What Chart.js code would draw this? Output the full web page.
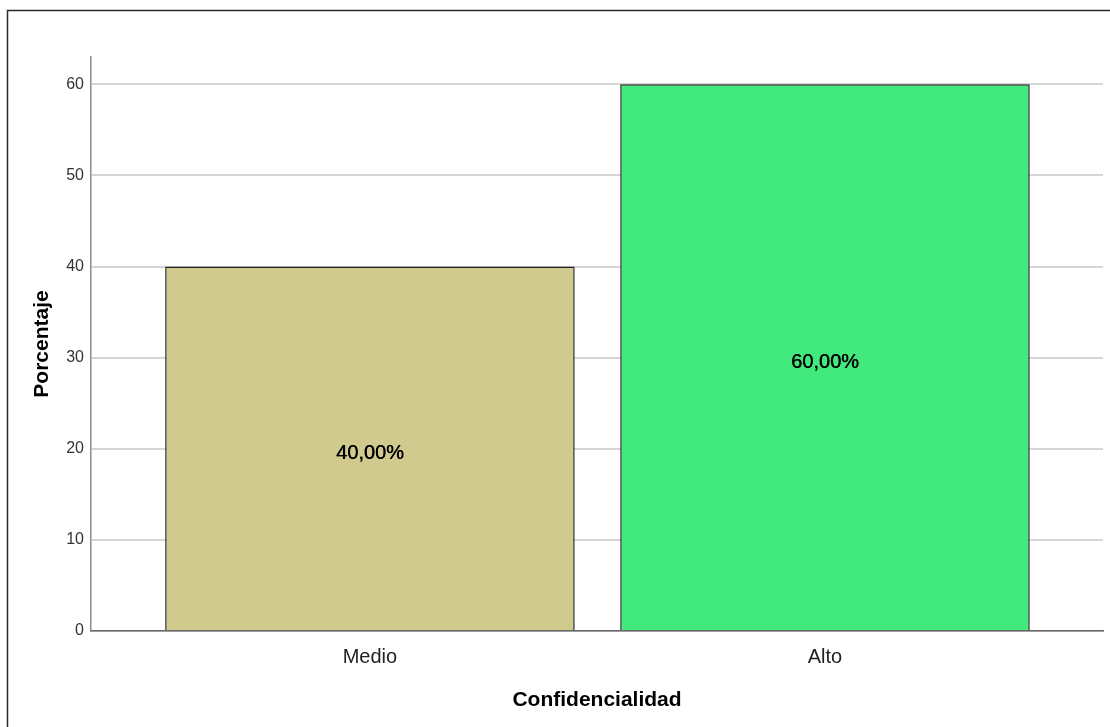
<!DOCTYPE html>
<html lang="es">
<head>
    <meta charset="UTF-8">
    <script src="https://cdn.jsdelivr.net/npm/chart.js@4.4.0/dist/chart.umd.min.js"></script>
    <title>Confidencialidad</title>
    <style>
        body { margin: 0; background: #fff; }
        #wrap { width: 1110px; height: 727px; }
    </style>
</head>
<body>
    <div id="wrap"><canvas id="myChart" width="1110" height="727"></canvas></div>
    <script>

        var categories = ['Medio', 'Alto'];
        var porcentajes = [40, 60];
        var yTicks = [0, 10, 20, 30, 40, 50, 60];
        var barColors = ['rgb(208, 202, 143)', 'rgb(66, 234, 126)'];

        var fontFamily = "'Liberation Sans', Arial, sans-serif";

        // frame around the whole output (left + top only are visible)
        var framePlugin = {
            id: 'frame',
            beforeDraw: function(chart) {
                var ctx = chart.ctx;
                ctx.save();
                ctx.strokeStyle = '#2a2a2a';
                ctx.lineWidth = 1.5;
                ctx.beginPath();
                ctx.moveTo(7.5, 727);
                ctx.lineTo(7.5, 10.5);
                ctx.lineTo(1110, 10.5);
                ctx.stroke();
                ctx.restore();
            }
        };

        // percentage label in the middle of each bar
        var barLabels = {
            id: 'barLabels',
            afterDatasetsDraw: function(chart) {
                var ctx = chart.ctx;
                var meta = chart.getDatasetMeta(0);
                ctx.save();
                ctx.fillStyle = '#000';
                ctx.font = '20px ' + fontFamily;
                ctx.textAlign = 'center';
                ctx.textBaseline = 'middle';
                meta.data.forEach(function(bar, i) {
                    var txt = porcentajes[i].toFixed(2).replace('.', ',') + '%';
                    var y = (bar.y + bar.base) / 2 + 5;
                    ctx.fillText(txt, bar.x, y);
                    ctx.fillText(txt, bar.x + 0.4, y);
                });
                ctx.restore();
            }
        };

        var ctx = document.getElementById('myChart').getContext('2d');
        var myChart = new Chart(ctx, {
            type: 'bar',
            data: {
                datasets: [{
                    label: 'Porcentaje',
                    data: porcentajes.map(function(v, i) { return { x: i, y: v }; }),
                    backgroundColor: barColors,
                    borderColor: '#222',
                    borderWidth: 1.5,
                    borderSkipped: 'start',
                    barPercentage: 0.9,
                    categoryPercentage: 1
                }]
            },
            options: {
                responsive: false,
                animation: false,
                layout: { padding: { top: 57, right: 7, left: 0, bottom: 0 } },
                plugins: {
                    legend: { display: false },
                    tooltip: { enabled: false }
                },
                scales: {
                    x: {
                        type: 'linear',
                        offset: false,
                        min: -0.613,
                        max: 1.611,
                        afterBuildTicks: function(scale) {
                            scale.ticks = categories.map(function(c, i) { return { value: i }; });
                        },
                        afterFit: function(scale) { scale.height = 96; },
                        grid: { display: false, drawTicks: false, offset: false },
                        border: { display: true, color: '#666', width: 1.5 },
                        ticks: {
                            padding: 14,
                            color: '#222',
                            font: { family: fontFamily, size: 20 },
                            callback: function(v) { return categories[v]; }
                        },
                        title: {
                            display: true,
                            text: 'Confidencialidad',
                            color: '#000',
                            font: { family: fontFamily, size: 21, weight: 'bold' },
                            padding: { top: 0, bottom: 14 }
                        }
                    },
                    y: {
                        min: 0,
                        max: 63,
                        afterBuildTicks: function(scale) {
                            scale.ticks = yTicks.map(function(v) { return { value: v }; });
                        },
                        afterFit: function(scale) { scale.width = 91; },
                        grid: { color: '#d6d6d6', lineWidth: 2, drawTicks: false },
                        border: { display: true, color: '#8c8c8c', width: 1.5 },
                        ticks: {
                            padding: 7,
                            color: '#333',
                            font: { family: fontFamily, size: 16 }
                        },
                        title: {
                            display: true,
                            text: 'Porcentaje',
                            color: '#000',
                            font: { family: fontFamily, size: 21, weight: 'bold' },
                            padding: { top: 30, bottom: 0 }
                        }
                    }
                }
            },
            plugins: [framePlugin, barLabels]
        });
    </script>
</body>
</html>
